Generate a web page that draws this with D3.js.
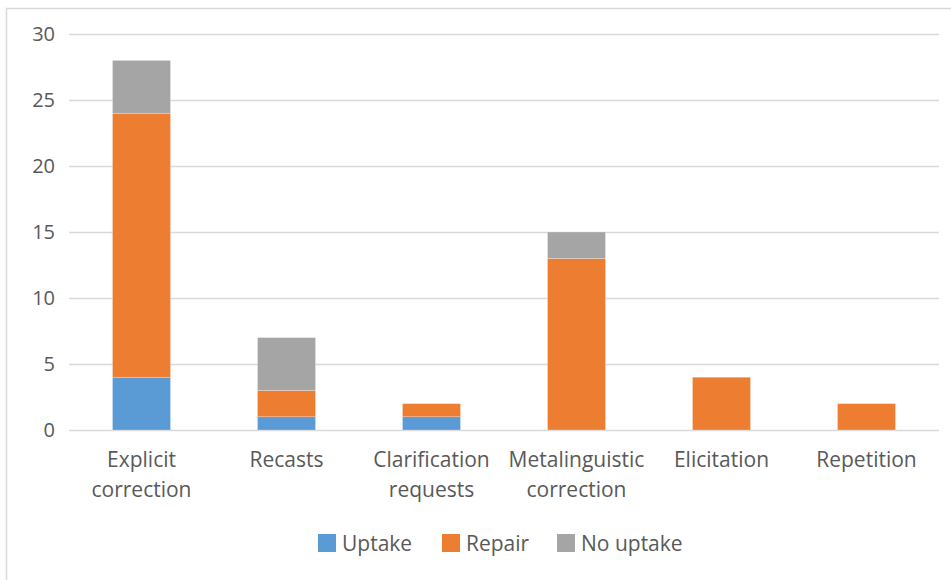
<!DOCTYPE html>
<html><head><meta charset="utf-8">
<script src="https://cdn.jsdelivr.net/npm/d3@7"></script>
<style>body{margin:0;background:#fff}svg{display:block}</style>
</head><body>
<script>
const categories = [["Explicit","correction"],["Recasts"],["Clarification","requests"],["Metalinguistic","correction"],["Elicitation"],["Repetition"]];
const seriesNames = ["Uptake","Repair","No uptake"];
const uptake = [4,1,1,0,0,0];
const repair = [20,2,1,13,4,2];
const noUptake = [4,4,0,2,0,0];
const yTicks = [0,5,10,15,20,25,30];
const colors = ["#5B9BD5","#ED7D31","#A5A5A5"];

(function(){
const W=951,H=580;
const svg=d3.select("body").append("svg").attr("width",W).attr("height",H);
const font="'Open Sans', 'Noto Sans', sans-serif";
svg.append("path").attr("d","M6.5,580V8.5H951").attr("fill","none").attr("stroke","#D9D9D9").attr("stroke-width",1.5);

const mL=69,mR=939,mT=34,mB=430;
const labels=categories.map(c=>c.join(" "));
const x=d3.scaleBand().domain(labels).range([mL,mR]).paddingInner(0.6).paddingOuter(0.3);
const y=d3.scaleLinear().domain([0,30]).range([mB,mT]);

const yAxis=svg.append("g").attr("transform",`translate(${mL},0)`)
  .call(d3.axisLeft(y).tickValues(yTicks).tickSize(-(mR-mL)).tickPadding(14));
yAxis.select(".domain").remove();
yAxis.selectAll("line").attr("stroke","#D9D9D9").attr("stroke-width",1.3);
yAxis.selectAll("text").attr("fill","#595959").style("font-family",font).style("font-size","20px");

const rows=labels.map((l,i)=>({cat:l,Uptake:uptake[i],Repair:repair[i],"No uptake":noUptake[i]}));
const stack=d3.stack().keys(seriesNames)(rows);
svg.append("g").selectAll("g").data(stack).join("g").attr("fill",(d,i)=>colors[i])
  .selectAll("rect").data(d=>d.filter(p=>p[1]-p[0]>0)).join("rect")
  .attr("x",d=>x(d.data.cat)).attr("width",x.bandwidth())
  .attr("y",d=>y(d[1])).attr("height",d=>y(d[0])-y(d[1]))
  .attr("stroke","#fff").attr("stroke-opacity",0.5).attr("stroke-width",0.5);

const xl=svg.append("g");
categories.forEach((c,i)=>{
  const t=xl.append("text").attr("x",x(labels[i])+x.bandwidth()/2).attr("y",467)
    .attr("text-anchor","middle").attr("fill","#595959").style("font-family",font).style("font-size","21px");
  c.forEach((line,j)=>t.append("tspan").attr("x",x(labels[i])+x.bandwidth()/2).attr("dy",j?30:0).text(line));
});

const legX=[318,442,557];
const lg=svg.append("g");
seriesNames.forEach((n,i)=>{
  lg.append("rect").attr("x",legX[i]).attr("y",534).attr("width",18).attr("height",18).attr("fill",colors[i]);
  lg.append("text").attr("x",legX[i]+24).attr("y",551).attr("fill","#595959")
    .style("font-family",font).style("font-size","21px").text(n);
});
})();
</script>
</body></html>
